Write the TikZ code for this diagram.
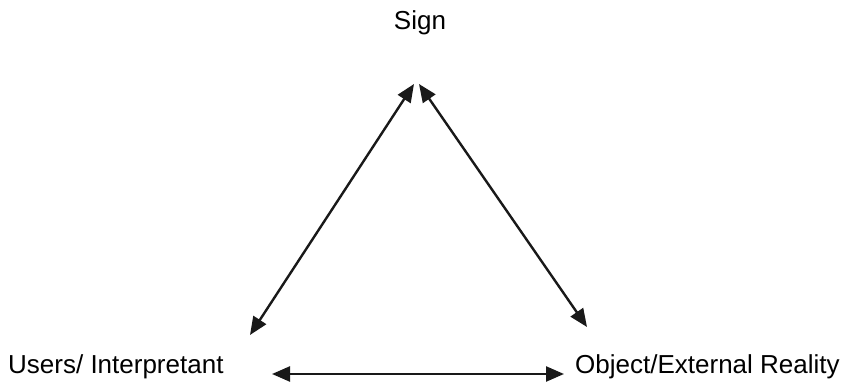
\documentclass[tikz,border=0pt]{standalone}
\usepackage{fontspec}
\setmainfont{Liberation Sans}
\usetikzlibrary{arrows.meta}
\begin{document}
\begin{tikzpicture}[x=1pt,y=1pt,
  lbl/.style={inner sep=0pt,font=\fontsize{26}{30}\selectfont,text=black},
  conn/.style={line width=2.4pt,draw=black!90,{Triangle[length=18pt,width=15pt]}-{Triangle[length=18pt,width=15pt]}}]
\useasboundingbox (0,0) rectangle (864,388);
\node[lbl,anchor=base] (sign) at (420,358) {Sign};
\node[lbl,anchor=base west] (users) at (8,15) {Users/ Interpretant};
\node[lbl,anchor=base west] (obj) at (575,15) {Object/External Reality};
\coordinate (topL) at (414,304);
\coordinate (topR) at (419,304);
\coordinate (uEnd) at (250,53);
\coordinate (oEnd) at (587,61);
\coordinate (bL) at (272,14);
\coordinate (bR) at (564,14);
\draw[conn] (uEnd) -- (topL);
\draw[conn] (oEnd) -- (topR);
\draw[conn] (bL) -- (bR);
\end{tikzpicture}
\end{document}
